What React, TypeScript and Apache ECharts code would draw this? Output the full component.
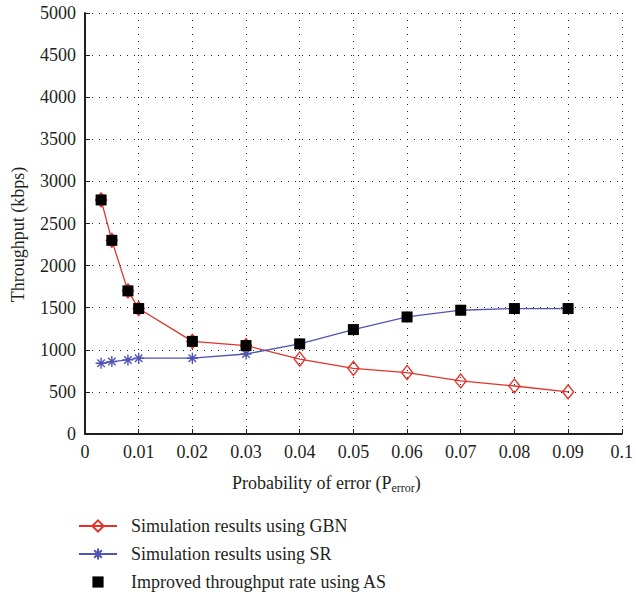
import React, { useEffect, useRef } from "react";
import * as echarts from "echarts";

const xValues = [0.003, 0.005, 0.008, 0.01, 0.02, 0.03, 0.04, 0.05, 0.06, 0.07, 0.08, 0.09];
const gbnValues = [2780, 2300, 1700, 1490, 1100, 1050, 890, 780, 730, 630, 570, 500];
const srValues = [840, 860, 880, 900, 900, 950, 1070, 1240, 1390, 1470, 1490, 1490];
const asValues = [2780, 2300, 1700, 1490, 1100, 1050, 1070, 1240, 1390, 1470, 1490, 1490];
const seriesNames = [
  "Simulation results using GBN",
  "Simulation results using SR",
  "Improved throughput rate using AS",
];

const RED = "#e2332b";
const BLUE = "#4f55b5";
const TEXT = "#231f20";
const FONT = "Liberation Serif";
const FS = 18;

const ASTERISK = "path://M5,0 L5,10 M0,5 L10,5 M1.6,1.6 L8.4,8.4 M1.6,8.4 L8.4,1.6";

export default function App() {
  const ref = useRef<HTMLDivElement>(null);
  useEffect(() => {
    if (!ref.current) return;
    const chart = echarts.init(ref.current, undefined, { renderer: "svg" });
    const pts = (ys: number[]) => xValues.map((x, i) => [x, ys[i]]);
    const splitLine = { show: true, lineStyle: { type: [1, 6] as any, color: "#222", width: 1 } };
    chart.setOption({
      animation: false,
      backgroundColor: "#fff",
      textStyle: { fontFamily: FONT },
      grid: { left: 85, right: 7, top: 13, bottom: 161, containLabel: false },
      xAxis: {
        type: "value",
        min: 0,
        max: 0.1,
        interval: 0.01,
        axisLine: { show: true, lineStyle: { color: "#231f20", width: 2 } },
        axisTick: { show: true, inside: true, length: 5, lineStyle: { color: "#231f20" } },
        axisLabel: {
          color: TEXT,
          fontFamily: FONT,
          fontSize: FS,
          margin: 9,
          formatter: (v: number) => String(parseFloat(v.toFixed(3))),
        },
        splitLine,
        name: "Probability of error (P{sub|error})",
        nameLocation: "middle",
        nameGap: 38,
        nameTextStyle: {
          color: TEXT,
          fontFamily: FONT,
          fontSize: FS,
          padding: [0, 54, 0, 0],
          rich: {
            sub: { fontFamily: FONT, fontSize: 12, color: TEXT, verticalAlign: "bottom", padding: [10, 0, 0, 0] },
          },
        },
      },
      yAxis: {
        type: "value",
        min: 0,
        max: 5000,
        interval: 500,
        axisLine: { show: true, lineStyle: { color: "#231f20", width: 2 } },
        axisTick: { show: true, inside: true, length: 5, lineStyle: { color: "#231f20" } },
        axisLabel: { color: TEXT, fontFamily: FONT, fontSize: FS, margin: 9, formatter: (v: number) => String(v) },
        splitLine,
        name: "Throughput (kbps)",
        nameLocation: "middle",
        nameGap: 58,
        nameTextStyle: { color: TEXT, fontFamily: FONT, fontSize: FS, padding: [0, 22, 0, 0] },
      },
      legend: {
        orient: "vertical",
        left: 78,
        top: 517,
        padding: 0,
        itemGap: 10,
        itemWidth: 38,
        itemHeight: 14,
        textStyle: { color: TEXT, fontFamily: FONT, fontSize: FS, padding: [0, 0, 0, 9] },
        data: seriesNames,
      },
      series: [
        {
          name: seriesNames[0],
          type: "line",
          data: pts(gbnValues),
          symbol: "diamond",
          symbolSize: [11, 14],
          color: RED,
          lineStyle: { color: RED, width: 1.3 },
          itemStyle: { color: "rgba(255,255,255,0)", borderColor: RED, borderWidth: 1.4 },
          z: 2,
        },
        {
          name: seriesNames[1],
          type: "line",
          data: pts(srValues),
          symbol: ASTERISK,
          symbolSize: 11,
          color: BLUE,
          lineStyle: { color: BLUE, width: 1.3 },
          itemStyle: { color: "rgba(0,0,0,0)", borderColor: BLUE, borderWidth: 1.4 },
          z: 3,
        },
        {
          name: seriesNames[2],
          type: "line",
          data: pts(asValues),
          symbol: "rect",
          symbolSize: 11,
          color: "#000",
          lineStyle: { opacity: 0, width: 0 },
          itemStyle: { color: "#000" },
          z: 4,
        },
      ],
    });
    return () => chart.dispose();
  }, []);
  return (
    <div
      ref={ref}
      style={{ position: "absolute", left: 0, top: 0, width: 636, height: 595 }}
    />
  );
}
